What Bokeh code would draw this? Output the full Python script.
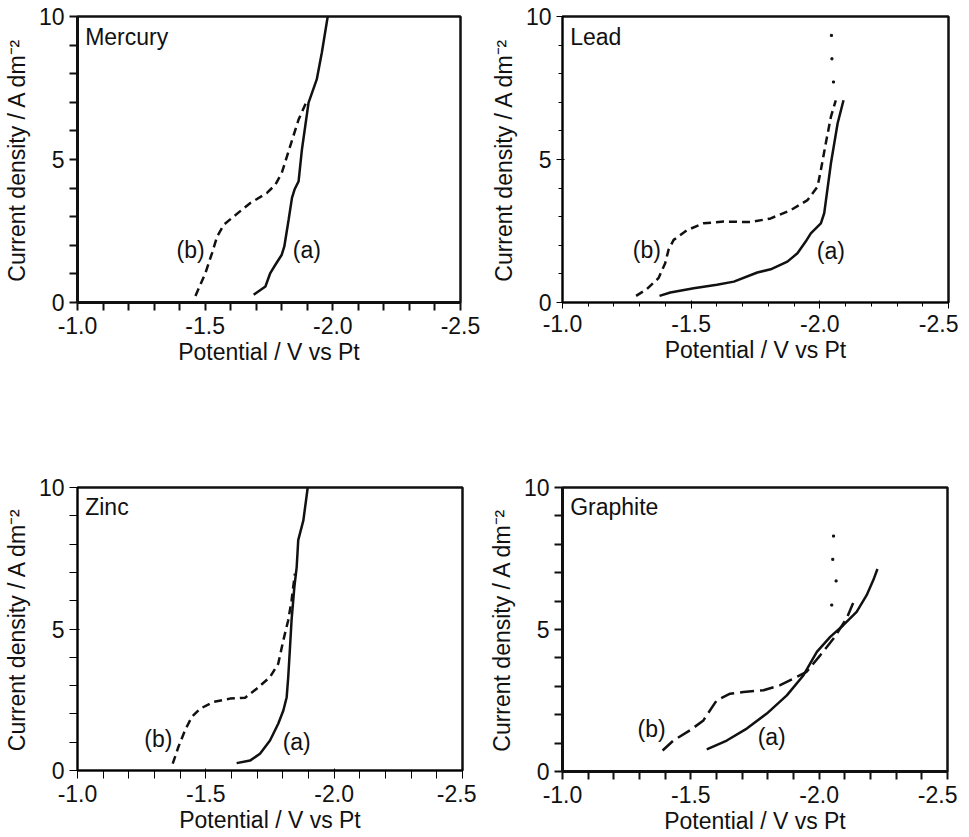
from bokeh.plotting import figure
from bokeh.layouts import column, row
from bokeh.models import Range1d, FixedTicker, Label, NumeralTickFormatter
from bokeh.embed import file_html
from bokeh.resources import INLINE

# ---------------- data ----------------
x_ticks = [-1.0, -1.5, -2.0, -2.5]
x_minor = [-1.1, -1.2, -1.3, -1.4, -1.6, -1.7, -1.8, -1.9, -2.1, -2.2, -2.3, -2.4]
y_ticks = [0, 5, 10]
y_minor = [1, 2, 3, 4, 6, 7, 8, 9]

mercury_a_v = [-1.690, -1.736, -1.755, -1.775, -1.800, -1.810, -1.827, -1.840, -1.850, -1.866, -1.879, -1.892, -1.905, -1.937, -1.957, -1.980]
mercury_a_j = [0.27, 0.56, 1.03, 1.32, 1.67, 1.96, 2.90, 3.66, 3.95, 4.24, 5.35, 6.17, 6.99, 7.80, 8.74, 10.0]
mercury_b_v = [-1.462, -1.501, -1.527, -1.547, -1.573, -1.612, -1.677, -1.742, -1.775, -1.800, -1.833, -1.866, -1.898]
mercury_b_j = [0.23, 1.03, 1.73, 2.31, 2.72, 3.01, 3.48, 3.83, 4.12, 4.53, 5.47, 6.40, 7.04]

lead_a_v = [-1.377, -1.419, -1.510, -1.600, -1.666, -1.757, -1.809, -1.874, -1.913, -1.945, -1.965, -2.004, -2.017, -2.043, -2.069, -2.092]
lead_a_j = [0.23, 0.35, 0.50, 0.62, 0.73, 1.05, 1.16, 1.43, 1.72, 2.13, 2.42, 2.77, 3.12, 4.86, 6.26, 7.07]
lead_b_v = [-1.286, -1.328, -1.373, -1.399, -1.412, -1.432, -1.484, -1.549, -1.627, -1.731, -1.809, -1.887, -1.952, -1.991, -2.004, -2.023, -2.043, -2.062]
lead_b_j = [0.23, 0.47, 0.85, 1.37, 1.84, 2.19, 2.53, 2.77, 2.83, 2.81, 2.94, 3.23, 3.58, 4.05, 4.63, 5.56, 6.49, 7.07]
lead_dots_v = [-2.045, -2.047, -2.053]
lead_dots_j = [9.34, 8.52, 7.71]

zinc_a_v = [-1.620, -1.672, -1.711, -1.750, -1.782, -1.802, -1.815, -1.821, -1.828, -1.834, -1.845, -1.854, -1.860, -1.880, -1.897]
zinc_a_j = [0.26, 0.35, 0.59, 1.06, 1.65, 2.12, 2.59, 3.30, 4.36, 5.31, 6.49, 7.19, 8.14, 8.84, 10.0]
zinc_b_v = [-1.371, -1.393, -1.419, -1.445, -1.477, -1.529, -1.594, -1.653, -1.698, -1.750, -1.782, -1.802, -1.821, -1.834, -1.847]
zinc_b_j = [0.24, 0.83, 1.42, 1.89, 2.18, 2.42, 2.54, 2.57, 2.89, 3.30, 3.77, 4.60, 5.31, 6.01, 6.96]

graphite_a_v = [-1.562, -1.640, -1.718, -1.796, -1.874, -1.939, -1.991, -2.043, -2.094, -2.146, -2.185, -2.211, -2.227]
graphite_a_j = [0.78, 1.09, 1.51, 2.04, 2.68, 3.39, 4.21, 4.74, 5.15, 5.62, 6.21, 6.74, 7.13]
graphite_b_v = [-1.390, -1.432, -1.497, -1.549, -1.562, -1.601, -1.653, -1.705, -1.783, -1.848, -1.900, -1.951, -2.004, -2.056, -2.107, -2.140]
graphite_b_j = [0.74, 1.09, 1.45, 1.80, 1.98, 2.51, 2.74, 2.80, 2.86, 3.04, 3.27, 3.51, 4.09, 4.68, 5.39, 6.09]
graphite_dots_v = [-2.056, -2.053, -2.066, -2.049]
graphite_dots_j = [8.29, 7.47, 6.71, 5.86]

FONT = "Liberation Sans"
INK = "#111111"
FS = "23px"


def make_panel(name, av, aj, bv, bj, dash, a_pos, b_pos, dots, borders, frame, variant):
    left, right, top, bottom = borders
    fw, fh = frame
    kw = {}
    if variant == 4:
        kw = dict(background_fill_color="white", border_fill_color="white")
    p = figure(x_range=Range1d(-1.0, -2.5), y_range=Range1d(0, 10),
               frame_width=fw, frame_height=fh,
               min_border_left=left, min_border_right=right,
               min_border_top=top, min_border_bottom=bottom,
               output_backend="svg", toolbar_location=None, **kw)
    p.xgrid.visible = False
    p.ygrid.visible = False
    p.outline_line_color = INK
    p.outline_line_width = 2.5
    p.outline_line_alpha = 1.0

    p.xaxis.ticker = FixedTicker(ticks=x_ticks, minor_ticks=x_minor)
    p.yaxis.ticker = FixedTicker(ticks=y_ticks, minor_ticks=y_minor)
    p.xaxis.formatter = NumeralTickFormatter(format="0.0")
    p.xaxis.axis_label = "Potential / V vs Pt"
    p.yaxis.axis_label = "Current density / A dm\u207b\u00b2"
    for ax in (p.xaxis[0], p.yaxis[0]):
        if variant in (1, 4):
            ax.axis_line_width = 3
            ax.axis_line_color = INK
            ax.major_tick_line_color = INK
            ax.minor_tick_line_color = INK
            ax.major_tick_line_width = 2
            ax.minor_tick_line_width = 2
            ax.major_tick_out = 8
            ax.major_tick_in = 0
            ax.minor_tick_out = 8
            ax.minor_tick_in = 0
        elif variant == 3:
            ax.major_tick_out = 8
            ax.minor_tick_out = 8
        ax.major_label_text_font = FONT
        ax.major_label_text_font_size = FS
        ax.major_label_text_color = INK
        ax.axis_label_text_font = FONT
        ax.axis_label_text_font_size = FS
        ax.axis_label_text_font_style = "normal"
        ax.axis_label_text_color = INK
    p.xaxis.major_label_standoff = 6
    p.xaxis.axis_label_standoff = 2
    p.yaxis.major_label_standoff = 5
    p.yaxis.axis_label_standoff = 6

    p.line(av, aj, line_color=INK, line_width=2.5)
    p.line(bv, bj, line_color=INK, line_width=2.5, line_dash=dash)
    if dots is not None:
        p.scatter(dots[0], dots[1], size=2, color=INK, marker="square")

    p.add_layout(Label(x=-1.03, y=9.3, text=name, text_font=FONT, text_font_size=FS,
                       text_color=INK, text_baseline="middle", text_align="left"))
    p.add_layout(Label(x=a_pos[0], y=a_pos[1], text="(a)", text_font=FONT, text_font_size=FS,
                       text_color=INK, text_baseline="middle", text_align="center"))
    p.add_layout(Label(x=b_pos[0], y=b_pos[1], text="(b)", text_font=FONT, text_font_size=FS,
                       text_color=INK, text_baseline="middle", text_align="center"))
    return p


p1 = make_panel("Mercury", mercury_a_v, mercury_a_j, mercury_b_v, mercury_b_j, "8 5",
                (-1.898, 1.85), (-1.443, 1.85), None, (72, 20, 16, 64), (383, 286), 1)
p2 = make_panel("Lead", lead_a_v, lead_a_j, lead_b_v, lead_b_j, "8 5",
                (-2.043, 1.81), (-1.328, 1.84), (lead_dots_v, lead_dots_j), (82, 10, 12, 68), (386, 286), 2)
p3 = make_panel("Zinc", zinc_a_v, zinc_a_j, zinc_b_v, zinc_b_j, "8 5",
                (-1.854, 1.0), (-1.315, 1.12), None, (76, 14, 120, 55), (385, 283), 3)
p4 = make_panel("Graphite", graphite_a_v, graphite_a_j, graphite_b_v, graphite_b_j, "14 6",
                (-1.815, 1.21), (-1.347, 1.51), (graphite_dots_v, graphite_dots_j), (86, 10, 115, 55), (385, 284), 4)

layout = column(row(p1, p2, spacing=0), row(p3, p4, spacing=0), spacing=0)

open("out.html", "w").write(file_html(layout, INLINE))
